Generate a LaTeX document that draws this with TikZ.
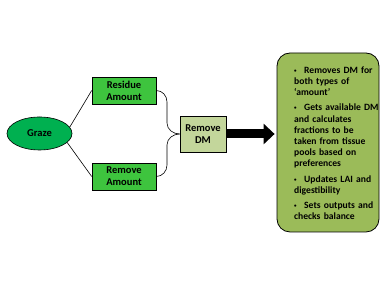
\documentclass[tikz,border=0pt]{standalone}
\usepackage{fontspec}
\setmainfont{Carlito}
\usepackage{tikz}
\usetikzlibrary{arrows.meta, shapes.geometric}
\definecolor{grazegreen}{RGB}{0,176,80}
\definecolor{boxgreen}{RGB}{62,196,62}
\definecolor{dmgreen}{RGB}{195,214,155}
\definecolor{notegreen}{RGB}{155,187,89}
\newcommand{\bitem}[1]{\par\hangindent=10pt\hangafter=1\noindent
  \makebox[10pt][l]{\raisebox{1pt}{\tiny\textbullet}}#1}
\tikzset{
  stepfont/.style={font=\bfseries\fontsize{10.5}{12}\selectfont},
  grazenode/.style={ellipse, draw=black, fill=grazegreen,
    minimum width=65pt, minimum height=33pt, inner sep=0pt,
    stepfont, line width=0.6pt},
  amtbox/.style={rectangle, draw=black, fill=boxgreen, align=center,
    minimum width=64pt, minimum height=27pt, inner sep=1pt,
    stepfont, line width=0.6pt},
  dmbox/.style={rectangle, draw=black, fill=dmgreen, align=center,
    minimum width=46pt, minimum height=36pt, inner sep=1pt,
    stepfont, line width=0.6pt},
  notebox/.style={rectangle, draw=black, fill=notegreen,
    minimum width=102pt, minimum height=179pt, rounded corners=13pt,
    line width=0.8pt},
  notetext/.style={text width=100pt, align=left, inner sep=0pt,
    font=\bfseries\fontsize{9.6}{11.2}\selectfont},
  line/.style={line width=0.6pt, color=black},
  bigarrow/.style={line width=9pt, color=black,
    -{Triangle[length=11pt,width=20pt]}, shorten <=1pt, shorten >=2pt}
}
\begin{document}
\begin{tikzpicture}[x=1pt,y=1pt]
  \useasboundingbox (0,0) rectangle (384,288);
  % Nodes
  \node[grazenode] (graze) at (39.5,154.5) {Graze};
  \node[amtbox] (res) at (124,197.5) {Residue\\Amount};
  \node[amtbox] (rem) at (124,111.5) {Remove\\Amount};
  \node[dmbox] (rdm) at (203,154) {Remove\\DM};
  \node[notebox] (notes) at (328,145.5) {};
  \node[notetext, anchor=north west] (list) at (294,230) {%
    \setlength{\parskip}{4pt}%
    \bitem{Removes DM for\\both types of\\‘amount’}
    \bitem{Gets available DM\\and calculates\\fractions to be\\taken from tissue\\pools based on\\preferences}
    \bitem{Updates LAI and\\digestibility}
    \bitem{Sets outputs and\\checks balance}};
  % Branches
  \draw[line] (graze.12) -- (res.west);
  \draw[line] (graze.-18) -- (rem.west);
  % Brace
  \coordinate (bt1) at (167,186);
  \coordinate (bt2) at (167,165);
  \coordinate (bb1) at (167,123);
  \coordinate (bb2) at (167,143);
  \draw[line] (res.east) to[out=0,in=90] (bt1) -- (bt2) to[out=-90,in=180] (rdm.west);
  \draw[line] (rem.east) to[out=0,in=-90] (bb1) -- (bb2) to[out=90,in=180] (rdm.west);
  % Arrow
  \draw[bigarrow] (rdm.east) -- (rdm.east -| notes.west);
\end{tikzpicture}
\end{document}
